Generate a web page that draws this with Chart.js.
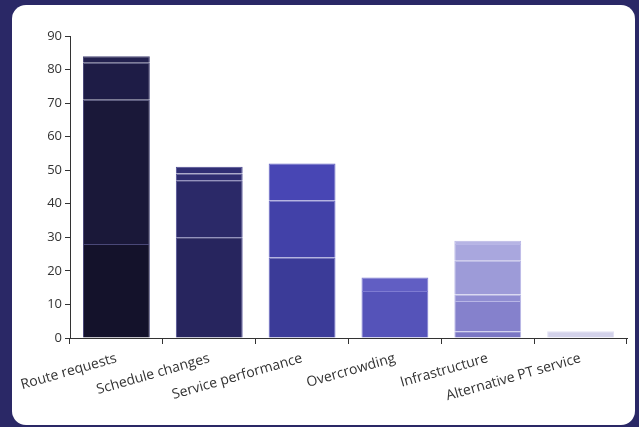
<!DOCTYPE html>
<html>
<head>
<meta charset="utf-8">
<script src="https://cdn.jsdelivr.net/npm/chart.js@4.4.1/dist/chart.umd.min.js"></script>
<style>
  html, body { margin: 0; padding: 0; }
  body { width: 639px; height: 427px; background: #2a2866; position: relative; overflow: hidden; }
  #card { position: absolute; left: 12px; top: 5px; width: 623px; height: 420px; background: #fff; border-radius: 14px; }
  #wrap { position: absolute; left: 0; top: 0; width: 639px; height: 427px; }
</style>
</head>
<body>
<div id="card"></div>
<div id="wrap"><canvas id="canvas" width="639" height="427"></canvas></div>
<script>
// categories
var categories = ['Route requests', 'Schedule changes', 'Service performance', 'Overcrowding', 'Infrastructure', 'Alternative PT service'];

// stacked layers (bottom to top), one value per category
var layer1 = [28, 30, 24, 14, 2, 2];
var layer2 = [43, 17, 17, 4, 9, null];
var layer3 = [11, 2, 11, null, 2, null];
var layer4 = [2, 2, null, null, 10, null];
var layer5 = [null, null, null, null, 5, null];
var layer6 = [null, null, null, null, 1, null];

var yTicks = [0, 10, 20, 30, 40, 50, 60, 70, 80, 90];

// colours per layer, per category
var colors = [
  ['#14122b', '#27255e', '#3b3b98', '#5553b9', '#7a76c4', '#d3d2ea'],
  ['#1a1839', '#2b2968', '#4241a8', '#615ec3', '#8581cc', '#d3d2ea'],
  ['#1e1c46', '#2e2c70', '#4846b4', '#615ec3', '#908dd2', '#d3d2ea'],
  ['#23214f', '#302e74', '#4846b4', '#615ec3', '#9d9bd8', '#d3d2ea'],
  ['#23214f', '#302e74', '#4846b4', '#615ec3', '#a9a7de', '#d3d2ea'],
  ['#23214f', '#302e74', '#4846b4', '#615ec3', '#b6b4e4', '#d3d2ea']
];
// segment edge colour per category
var edgeColors = ['#4a4878', '#4d4b92', '#6664c4', '#7e7bd2', '#b8b6e6', '#e2e1f3'];

var layers = [layer1, layer2, layer3, layer4, layer5, layer6];
var datasets = [];
for (var i = 0; i < layers.length; i++) {
  datasets.push({
    data: layers[i],
    backgroundColor: colors[i],
    borderColor: edgeColors,
    borderWidth: 1,
    categoryPercentage: 0.8,
    barPercentage: 0.9
  });
}

Chart.defaults.font.family = '"Open Sans", sans-serif';
Chart.defaults.font.size = 13;
Chart.defaults.color = '#333';

var ctx = document.getElementById('canvas').getContext('2d');
window.myChart = new Chart(ctx, {
  type: 'bar',
  data: { labels: categories, datasets: datasets },
  options: {
    responsive: false,
    animation: false,
    layout: { padding: { left: 28, right: 12, top: 36, bottom: 0 } },
    plugins: { legend: { display: false }, tooltip: { enabled: false } },
    scales: {
      x: {
        stacked: true,
        grid: { drawOnChartArea: false, tickLength: 6, color: '#333' },
        border: { color: '#333' },
        ticks: { minRotation: 16, maxRotation: 16, padding: 6, color: '#333', font: { size: 14 } },
        afterFit: function (s) { s.height = 89; }
      },
      y: {
        stacked: true,
        min: 0,
        max: 90,
        afterBuildTicks: function (s) { s.ticks = yTicks.map(function (v) { return { value: v }; }); },
        grid: { drawOnChartArea: false, tickLength: 5, color: '#333' },
        border: { color: '#333' },
        ticks: { padding: 3, color: '#333' },
        afterFit: function (s) { s.width = 42; }
      }
    }
  }
});
</script>
</body>
</html>
